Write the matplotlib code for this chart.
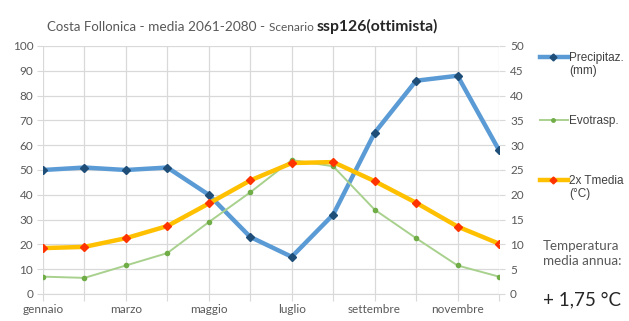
import matplotlib
matplotlib.use('Agg')
import matplotlib.pyplot as plt
from matplotlib.lines import Line2D

# monthly values, Costa Follonica, 2061-2080, ssp126
months = ['gennaio', 'febbraio', 'marzo', 'aprile', 'maggio', 'giugno',
          'luglio', 'agosto', 'settembre', 'ottobre', 'novembre', 'dicembre']
precip = [50, 51, 50, 51, 40, 23, 15, 32, 65, 86, 88, 58]
evotrasp = [7, 6.5, 11.5, 16.5, 29, 41, 54, 51.5, 34, 22.5, 11.5, 7]
tmedia_2x = [18.5, 19, 22.5, 27.4, 36.5, 45.8, 52.8, 53.2, 45.5, 36.8, 27.2, 20.3]
left_ticks = list(range(0, 101, 10))
right_ticks = list(range(0, 51, 5))

BLUE, BLUE_DARK = '#5B9BD5', '#1F4E79'
GREEN, GREEN_DARK = '#A9D18E', '#70AD47'
YELLOW, RED = '#FFC000', '#FF3300'
GRID = '#D9D9D9'
TXT = '#595959'
FONT = 'Lato'

fig = plt.figure(figsize=(6.29, 3.21), dpi=100)
ax = fig.add_axes([43 / 629, 27 / 321, 456 / 629, 248 / 321])
x = list(range(len(months)))

ax.plot(x, precip, color=BLUE, lw=3.2, marker='D', ms=4.5,
        mfc=BLUE_DARK, mec=BLUE_DARK, zorder=3, solid_capstyle='round')
ax.plot(x, evotrasp, color=GREEN, lw=1.4, marker='o', ms=3,
        mfc=GREEN_DARK, mec=GREEN_DARK, zorder=3)
ax.plot(x, tmedia_2x, color=YELLOW, lw=3.2, marker='D', ms=4.5,
        mfc=RED, mec=RED, zorder=4, solid_capstyle='round')

ax.set_xlim(0, 11)
ax.set_ylim(0, 100)
ax.set_yticks(left_ticks)
ax.set_xticks(x)
ax.set_xticklabels([m if i % 2 == 0 else '' for i, m in enumerate(months)])
ax.grid(True, color=GRID, lw=0.9)
ax.set_axisbelow(True)
for s in ax.spines.values():
    s.set_visible(False)
ax.spines['bottom'].set_visible(True)
ax.spines['bottom'].set_color(GRID)
ax.tick_params(axis='y', length=4, color=GRID, labelcolor=TXT, labelsize=8.5, pad=3)
ax.tick_params(axis='x', length=5, color=GRID, labelcolor=TXT, labelsize=8.5, pad=2)
for lab in ax.get_xticklabels() + ax.get_yticklabels():
    lab.set_fontfamily(FONT)

ax2 = ax.twinx()
ax2.set_ylim(0, 50)
ax2.set_yticks(right_ticks)
for s in ax2.spines.values():
    s.set_visible(False)
ax2.tick_params(axis='y', length=4, color=GRID, labelcolor=TXT, labelsize=8.5, pad=4)
for lab in ax2.get_yticklabels():
    lab.set_fontfamily(FONT)

# title assembled from pieces of different size
fig.canvas.draw()
renderer = fig.canvas.get_renderer()
pieces = [('Costa Follonica', 9.5, 'normal', TXT),
          (' - media 2061-2080 - ', 9.8, 'normal', TXT),
          ('Scenario ', 8.6, 'normal', TXT),
          ('ssp126(ottimista)', 11.3, 'bold', '#262626')]
xpos = 47
for text, size, weight, col in pieces:
    t = fig.text(xpos / 629, 1 - 31 / 321, text, fontsize=size, fontweight=weight,
                 color=col, family=FONT, va='baseline', ha='left')
    xpos += t.get_window_extent(renderer).width

# legend on the right
legend_items = [('Precipitaz.\n(mm)', BLUE, BLUE_DARK, 3.2, 'D', 3.5, 57),
                ('Evotrasp.', GREEN, GREEN_DARK, 1.4, 'o', 2.5, 120),
                ('2x Tmedia\n(°C)', YELLOW, RED, 3.2, 'D', 3.5, 180)]
for label, lc, mc, lw, mk, ms, ypx in legend_items:
    yf = 1 - ypx / 321
    fig.add_artist(Line2D([540 / 629, 568 / 629], [yf, yf], color=lc, lw=lw))
    fig.add_artist(Line2D([553 / 629], [yf], marker=mk, ms=ms, mfc=mc, mec=mc, lw=0))
    fig.text(569 / 629, yf + 5 / 321, label, fontsize=8.5, family='Liberation Sans',
             color='#404040', va='top', ha='left', linespacing=1.1)

fig.text(543 / 629, 1 - 240 / 321, 'Temperatura\nmedia annua:', fontsize=9.6,
         family=FONT, color=TXT, va='top', ha='left', linespacing=1.3)
fig.text(543 / 629, 1 - 305 / 321, '+ 1,75 °C', fontsize=13.5, family=FONT,
         color='#262626', va='baseline', ha='left')

fig.savefig('out.png', dpi=100, facecolor='white')
